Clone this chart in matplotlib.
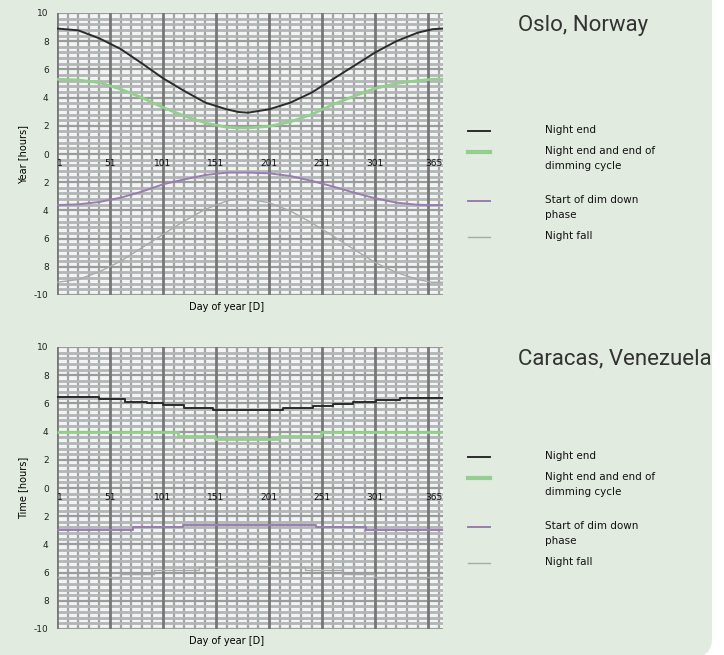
import numpy as np
import matplotlib
matplotlib.use("Agg")
import matplotlib.pyplot as plt
from matplotlib.lines import Line2D
from matplotlib.patches import FancyBboxPatch
from matplotlib.ticker import FixedLocator

# ---------------- data ----------------
oslo_days = [1, 21, 41, 61, 81, 101, 121, 141, 161, 172, 181, 201, 221, 241, 261, 281, 301, 321, 341, 355, 365]
oslo_night_end = [8.9, 8.77, 8.2, 7.45, 6.43, 5.37, 4.47, 3.64, 3.17, 2.98, 2.93, 3.17, 3.64, 4.35, 5.3, 6.25, 7.2, 8.0, 8.6, 8.85, 8.9]
oslo_dim_end = [5.3, 5.25, 5.06, 4.6, 4.0, 3.3, 2.7, 2.2, 1.9, 1.85, 1.85, 1.96, 2.28, 2.8, 3.5, 4.1, 4.65, 5.0, 5.2, 5.3, 5.3]
oslo_dim_start = [-3.62, -3.57, -3.4, -3.1, -2.67, -2.15, -1.8, -1.49, -1.32, -1.32, -1.32, -1.37, -1.56, -1.9, -2.3, -2.74, -3.14, -3.45, -3.6, -3.62, -3.62]
oslo_night_fall = [-9.1, -8.9, -8.35, -7.6, -6.65, -5.7, -4.75, -3.92, -3.33, -3.2, -3.2, -3.45, -4.04, -4.87, -5.8, -6.76, -7.7, -8.4, -8.9, -9.1, -9.1]

car_ne_days = [1, 41, 65, 86, 101, 121, 148, 214, 242, 261, 280, 302, 324, 365]
car_night_end = [6.43, 6.29, 6.12, 6.0, 5.86, 5.69, 5.53, 5.65, 5.81, 5.95, 6.1, 6.24, 6.4, 6.4]
car_de_days = [1, 115, 150, 210, 250, 365]
car_dim_end = [4.0, 3.7, 3.5, 3.7, 4.0, 4.0]
car_ds_days = [1, 73, 120, 245, 292, 365]
car_dim_start = [-2.97, -2.78, -2.59, -2.78, -2.97, -2.97]
car_nf_days = [1, 60, 92, 135, 155, 210, 235, 270, 300, 365]
car_night_fall = [-6.33, -6.1, -5.8, -5.6, -5.5, -5.6, -5.8, -6.1, -6.33, -6.33]

x_ticks = [1, 51, 101, 151, 201, 251, 301, 365]
x_major_grid = [1, 51, 101, 151, 201, 251, 301, 351]
y_ticks = [10, 8, 6, 4, 2, 0, -2, -4, -6, -8, -10]
y_tick_labels = ["10", "8", "6", "4", "2", "0", "2", "4", "6", "8", "-10"]

series_labels = ["Night end", "Night end and end of\ndimming cycle", "Start of dim down\nphase", "Night fall"]
titles = ["Oslo, Norway", "Caracas, Venezuela"]
ylabels = ["Year [hours]", "Time [hours]"]
xlabel = "Day of year [D]"

# ---------------- style ----------------
colors = ["#2b2b2b", "#93cf8d", "#9a7db0", "#a9a9a9"]
widths = [1.4, 2.0, 1.4, 1.0]
small_font = ["Liberation Sans Narrow", "DejaVu Sans"]

W, H = 724, 655
fig = plt.figure(figsize=(W / 100, H / 100), dpi=100, facecolor="white")

bg = FancyBboxPatch((-40 / W, -3 / H), (712 + 40) / W, (H + 40) / H,
                    boxstyle="round,pad=0,rounding_size=0.03",
                    transform=fig.transFigure, facecolor="#e2ebe0", edgecolor="none", zorder=-10)
fig.patches.append(bg)

def make_panel(top_px, days_list, vals_list, steps, title, ylabel, leg_rows):
    left, right, bottom = 57, 443, top_px + 282
    ax = fig.add_axes([left / W, 1 - bottom / H, (right - left) / W, 282 / H])
    ax.set_facecolor("#f3f5f5")
    ax.set_xlim(1, 365)
    ax.set_ylim(-10, 10)
    # grid
    ax.xaxis.set_minor_locator(FixedLocator(np.arange(1, 366, 10)))
    ax.xaxis.set_major_locator(FixedLocator(x_major_grid))
    ax.yaxis.set_major_locator(FixedLocator(y_ticks))
    ax.yaxis.set_minor_locator(FixedLocator(np.arange(-10, 10.01, 0.4)))
    ax.grid(which="minor", axis="y", color="#b3b6b6", lw=2.0, zorder=0)
    ax.grid(which="minor", axis="x", color="#a3a5a5", lw=1.6, zorder=0)
    ax.grid(which="major", axis="y", color="#9a9c9c", lw=1.6, zorder=0)
    ax.set_axisbelow(True)
    for xm in x_major_grid:
        ax.axvline(xm, color="#777777", lw=2.0, zorder=1)
    ax.tick_params(axis="x", which="both", length=0, labelbottom=False)
    ax.tick_params(axis="y", which="both", length=0, labelsize=6.5, pad=6, colors="#222222")
    ax.set_yticklabels(y_tick_labels)
    for s in ax.spines.values():
        s.set_visible(False)
    # x tick labels on the zero line
    for i, t in enumerate(x_ticks):
        ha = "left" if i == 0 else ("right" if t == 365 else "center")
        ax.text(t, -0.35, str(t), ha=ha, va="top", fontsize=6.5, family=small_font,
                color="#111111", zorder=5)
    # series
    for d, v, c, lw in zip(days_list, vals_list, colors, widths):
        ax.plot(d, v, color=c, lw=lw, drawstyle="steps-post" if steps else "default",
                zorder=3, solid_capstyle="butt")
    ax.set_ylabel(ylabel, fontsize=7, family=small_font, labelpad=4)
    ax.set_xlabel(xlabel, fontsize=7, family=small_font)
    ax.xaxis.set_label_coords(0.44, -0.025)
    # title
    fig.text(518 / W, 1 - (top_px + 12) / H, title, fontsize=16, family=["Roboto", "DejaVu Sans"],
             fontweight="normal", color="#333333", va="center", ha="left")
    # legend
    for (ly, c, lw, lab) in zip(leg_rows, colors, [1.4, 3.0, 1.4, 1.0], series_labels):
        fig.add_artist(Line2D([468 / W, 490 / W], [1 - ly / H, 1 - ly / H], color=c, lw=lw,
                              transform=fig.transFigure))
        fig.text(545 / W, 1 - (ly - 6) / H, lab, fontsize=7.5, family=small_font, va="top",
                 ha="left", linespacing=1.65, color="#111111")
    return ax

make_panel(13,
           [oslo_days] * 4,
           [oslo_night_end, oslo_dim_end, oslo_dim_start, oslo_night_fall],
           False, titles[0], ylabels[0], [131, 152, 201, 237])
make_panel(347,
           [car_ne_days, car_de_days, car_ds_days, car_nf_days],
           [car_night_end, car_dim_end, car_dim_start, car_night_fall],
           True, titles[1], ylabels[1], [457, 478, 527, 563])

fig.savefig("out.png", dpi=100, facecolor=fig.get_facecolor())
